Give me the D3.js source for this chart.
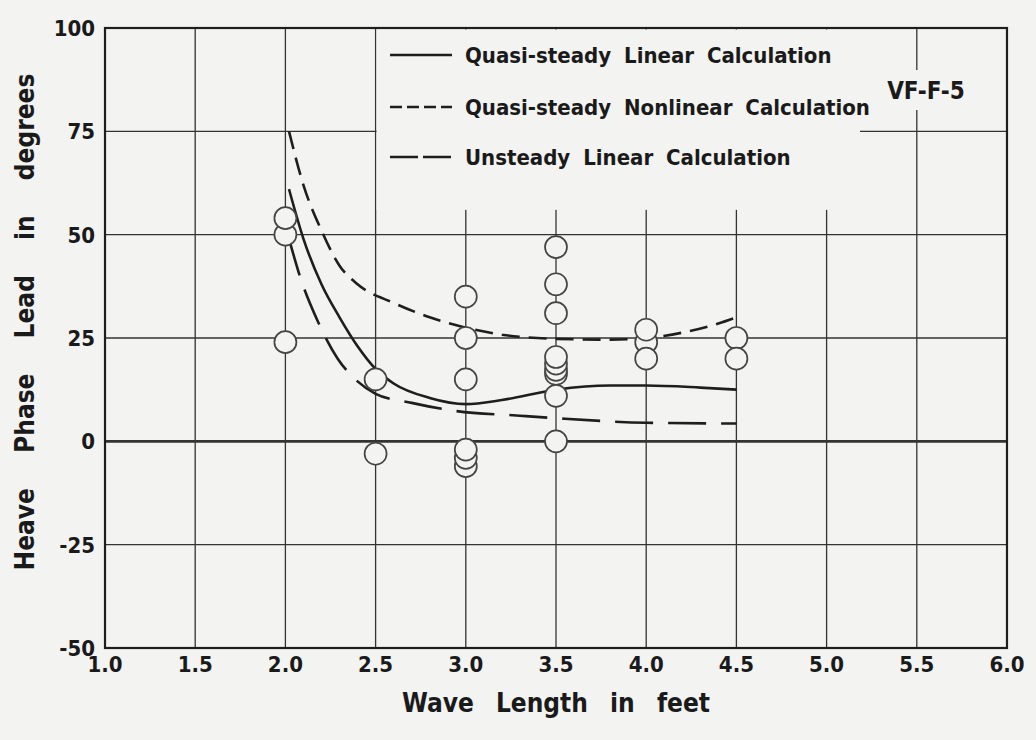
<!DOCTYPE html>
<html>
<head>
<meta charset="utf-8">
<script src="https://cdn.jsdelivr.net/npm/d3@7"></script>
<style>
  body { margin: 0; background: #f3f3f1; }
  text { font-family: "Liberation Sans Narrow", "DejaVu Sans Condensed", "Roboto Condensed", sans-serif; font-weight: bold; fill: #1a1a1a; }
</style>
</head>
<body>
<div id="chart"></div>
<script>
// Heave phase lead vs wave length, model VF-F-5
var width = 1036, height = 740;
var bg = "#f3f3f1", ink = "#1e1e1e";

// axis ticks
var xTicks = [1.0, 1.5, 2.0, 2.5, 3.0, 3.5, 4.0, 4.5, 5.0, 5.5, 6.0];
var xTickLabels = ["1.0", "1.5", "2.0", "2.5", "3.0", "3.5", "4.0", "4.5", "5.0", "5.5", "6.0"];
var yTicks = [100, 75, 50, 25, 0, -25, -50];

// measured points (wave length in ft, phase lead in deg)
var measuredLength = [2.0, 2.0, 2.0,
    2.5, 2.5,
    3.0, 3.0, 3.0, 3.0, 3.0, 3.0,
    3.5, 3.5, 3.5, 3.5, 3.5, 3.5, 3.5, 3.5, 3.5,
    4.0, 4.0, 4.0,
    4.5, 4.5];
var measuredPhase = [50, 54, 24,
    15, -3,
    35, 25, 15, -6, -4, -2,
    47, 38, 31, 16.3, 17.3, 18.8, 20.4, 11, 0,
    24, 27, 20,
    25, 20];

// quasi-steady linear calculation (solid)
var quasiLinearX = [2.02, 2.1, 2.2, 2.3, 2.4, 2.5, 2.6, 2.8, 3.0, 3.2, 3.5, 3.8, 4.0, 4.3, 4.5];
var quasiLinearY = [61, 49, 38, 30, 23, 17.5, 14, 10.5, 9, 10, 12.5, 13.5, 13.5, 13, 12.5];

// quasi-steady nonlinear calculation (short dash)
var quasiNonlinearX = [2.02, 2.1, 2.2, 2.3, 2.4, 2.6, 2.8, 3.0, 3.2, 3.5, 3.8, 4.0, 4.2, 4.4, 4.5];
var quasiNonlinearY = [75, 62, 51, 42.5, 38, 33.5, 30, 27.5, 25.8, 24.8, 24.6, 25, 26.3, 28.5, 30];

// unsteady linear calculation (long dash)
var unsteadyX = [2.02, 2.08, 2.18, 2.29, 2.4, 2.5, 2.7, 2.95, 3.3, 3.5, 4.0, 4.5];
var unsteadyY = [49, 40, 29, 20, 14.5, 11.5, 9.3, 7.3, 6.2, 5.6, 4.5, 4.3];

var legendLabels = ["Quasi-steady Linear Calculation",
    "Quasi-steady Nonlinear Calculation",
    "Unsteady Linear Calculation"];
var legendDash = [null, "12 5", "28 5"];

var svg = d3.select("#chart").append("svg")
    .attr("width", width)
    .attr("height", height)
    .style("background", bg);

var x = d3.scaleLinear().domain([1, 6]).range([105, 1007]);
var y = d3.scaleLinear().domain([-50, 100]).range([648, 28]);

// grid
var grid = svg.append("g").attr("stroke", "#333").attr("stroke-width", 1.3);
grid.selectAll(".vg").data(xTicks).enter().append("line")
    .attr("x1", d => x(d)).attr("x2", d => x(d))
    .attr("y1", y(100)).attr("y2", y(-50));
grid.selectAll(".hg").data(yTicks).enter().append("line")
    .attr("x1", x(1)).attr("x2", x(6))
    .attr("y1", d => y(d)).attr("y2", d => y(d))
    .attr("stroke-width", d => d === 0 ? 2.6 : 1.3);

// blank legend area
svg.append("rect")
    .attr("x", x(2.5) + 1).attr("y", y(100) + 1.5)
    .attr("width", 860 - x(2.5) - 1).attr("height", y(56) - y(100) - 1.5)
    .attr("fill", bg);

// frame
svg.append("rect")
    .attr("x", x(1)).attr("y", y(100))
    .attr("width", x(6) - x(1)).attr("height", y(-50) - y(100))
    .attr("fill", "none").attr("stroke", ink).attr("stroke-width", 2.2);

// curves
function drawCurve(xs, ys, dash) {
    var line = d3.line()
        .x(d => x(d[0])).y(d => y(d[1]))
        .curve(d3.curveMonotoneX);
    svg.append("path")
        .datum(xs.map((v, i) => [v, ys[i]]))
        .attr("d", line)
        .attr("fill", "none")
        .attr("stroke", ink)
        .attr("stroke-width", 2.6)
        .attr("stroke-dasharray", dash);
}
drawCurve(quasiLinearX, quasiLinearY, null);
drawCurve(quasiNonlinearX, quasiNonlinearY, "18 9");
drawCurve(unsteadyX, unsteadyY, "38 15");

// measured points
svg.append("g").selectAll("circle")
    .data(measuredLength.map((v, i) => [v, measuredPhase[i]]))
    .enter().append("circle")
    .attr("cx", d => x(d[0])).attr("cy", d => y(d[1]))
    .attr("r", 11)
    .attr("fill", bg)
    .attr("stroke", "#444")
    .attr("stroke-width", 1.7);

// tick labels
svg.append("g").selectAll("text")
    .data(xTicks).enter().append("text")
    .attr("x", d => x(d)).attr("y", 672)
    .attr("text-anchor", "middle")
    .attr("font-size", 22)
    .text((d, i) => xTickLabels[i]);

svg.append("g").selectAll("text")
    .data(yTicks).enter().append("text")
    .attr("x", 95).attr("y", d => y(d) + 8)
    .attr("text-anchor", "end")
    .attr("font-size", 22)
    .text(d => d);

// axis titles
svg.append("text")
    .attr("x", 556).attr("y", 712)
    .attr("text-anchor", "middle")
    .attr("font-size", 26)
    .style("word-spacing", "14px")
    .text("Wave Length in feet");

svg.append("text")
    .attr("transform", "translate(34," + 322 + ") rotate(-90)")
    .attr("text-anchor", "middle")
    .attr("font-size", 26)
    .style("word-spacing", "27px")
    .text("Heave Phase Lead in degrees");

// legend
var legendY = [55, 107, 157];
var legend = svg.append("g");
legendLabels.forEach(function(label, i) {
    legend.append("line")
        .attr("x1", 390).attr("x2", 452)
        .attr("y1", legendY[i]).attr("y2", legendY[i])
        .attr("stroke", ink).attr("stroke-width", 2.6)
        .attr("stroke-dasharray", legendDash[i]);
    legend.append("text")
        .attr("x", 465).attr("y", legendY[i] + 8)
        .attr("font-size", 22)
        .style("word-spacing", "6px")
        .text(label);
});

// model tag with its own blank patch over the grid line
svg.append("rect")
    .attr("x", 880).attr("y", 70).attr("width", 92).attr("height", 40)
    .attr("fill", bg);
svg.append("text")
    .attr("x", 926).attr("y", 99)
    .attr("text-anchor", "middle")
    .attr("font-size", 24)
    .text("VF-F-5");
</script>
</body>
</html>
